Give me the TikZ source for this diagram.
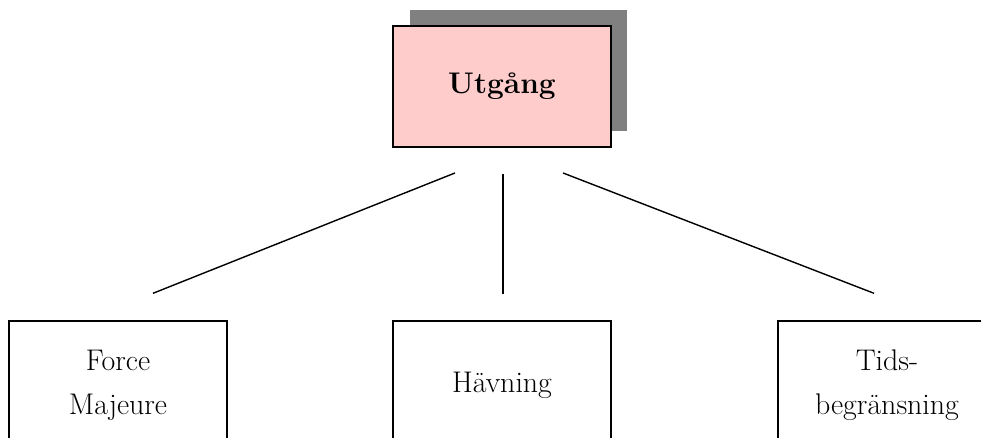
\documentclass[tikz,border=0pt]{standalone}
\usepackage{tikz}
\usetikzlibrary{calc}
\definecolor{rosa}{HTML}{FFCCCC}
\definecolor{skugga}{HTML}{808080}

\begin{document}
\begin{tikzpicture}
                            [line width = 0.8pt,
                            font = \fontsize{17}{25}\selectfont,
                            ruta/.style = {rectangle,
                                        draw,
                                        align = center,
                                        minimum width = 4.36cm,
                                        minimum height = 2.56cm}]
                            \useasboundingbox (0,0) rectangle (19.62,-8.74);
                            \clip (0,0) rectangle (19.62,-8.74);
                            % Skugga
                            \fill[skugga] (8.2,-0.2) rectangle (12.54,-2.62);
                            % Utgång
                            \node[ruta,fill=rosa,line width=1.1pt,minimum height=2.42cm,font=\fontsize{17}{25}\selectfont\bfseries] (utgang) at (10.04,-1.73) {Utgång};
                            % Grenar
                            \node[ruta] (force) at (2.36,-7.70) {Force\\Majeure};
                            \node[ruta] (havning) at (10.04,-7.70) {Hävning};
                            \node[ruta] (tids) at (17.74,-7.70) {Tids-\\begränsning};
                            % Linjer
                            \coordinate (u1) at ($(utgang.south)+(-0.94,-0.5)$);
                            \coordinate (u2) at ($(utgang.south)+(0.02,-0.52)$);
                            \coordinate (u3) at ($(utgang.south)+(1.22,-0.5)$);
                            \coordinate (f1) at ($(force.north)+(0.70,0.54)$);
                            \coordinate (h1) at ($(havning.north)+(0.02,0.52)$);
                            \coordinate (t1) at ($(tids.north)+(-0.26,0.54)$);
                            \draw (u1) -- (f1);
                            \draw (u2) -- (h1);
                            \draw (u3) -- (t1);
                        \end{tikzpicture}
\end{document}
